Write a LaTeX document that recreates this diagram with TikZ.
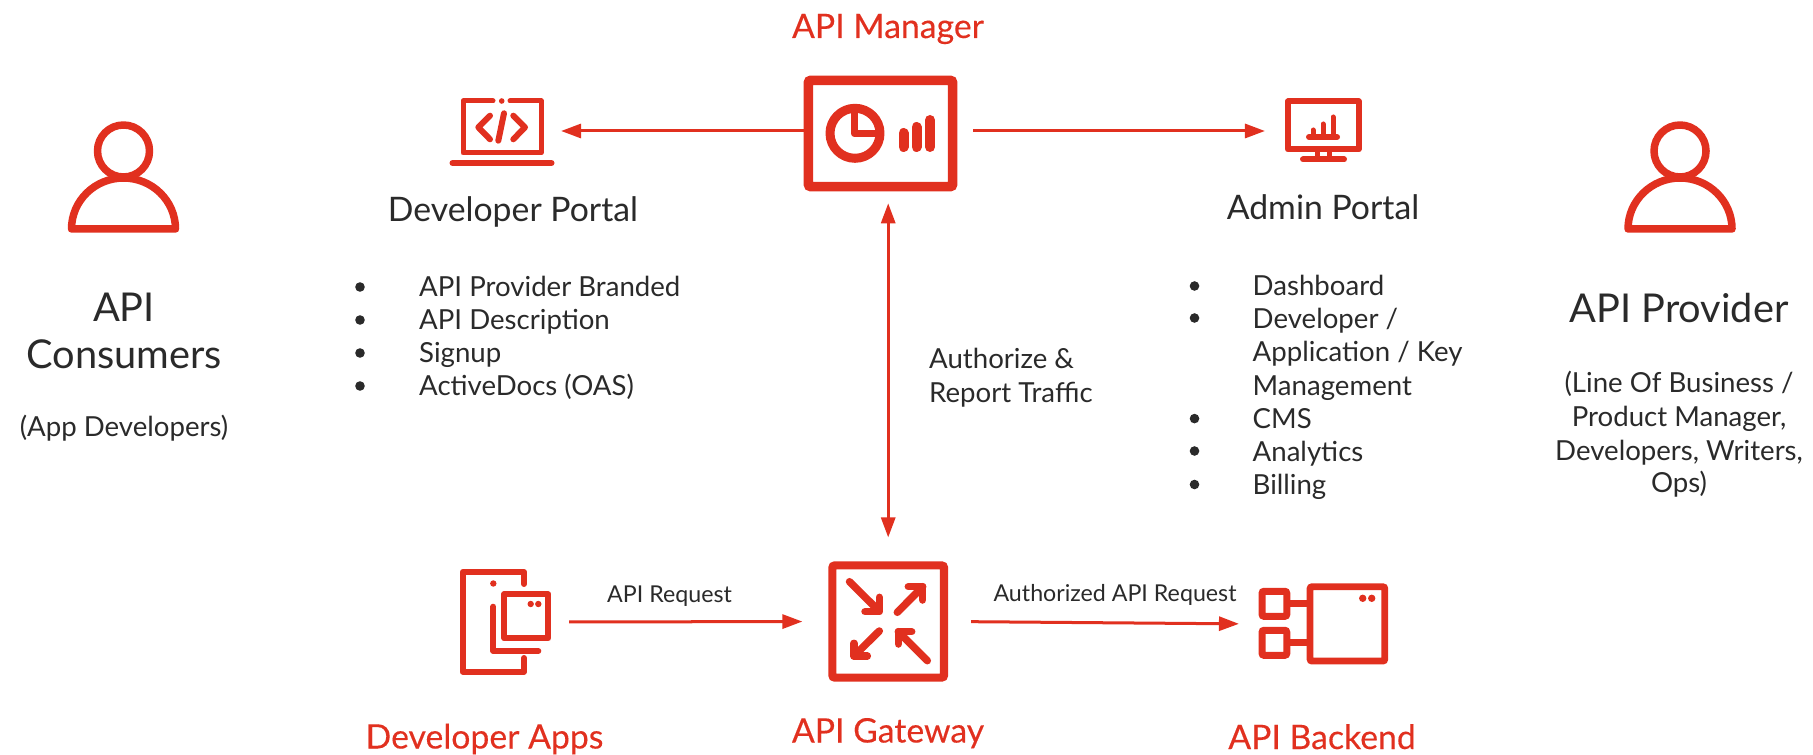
\documentclass[tikz,border=0pt]{standalone}
\usepackage{fontspec}
\setmainfont{Lato}
\usetikzlibrary{arrows.meta}
\definecolor{rhred}{HTML}{E1301F}
\definecolor{rhtext}{HTML}{2A2A2A}
\newfontfamily\titlefamily[FakeBold=0.25]{Lato}
\newcommand{\bigfont}{\fontsize{11.3}{13.6}\selectfont}
\newcommand{\midfont}{\fontsize{9.6}{12}\selectfont}
\newcommand{\smallfont}{\fontsize{7.85}{9.4}\selectfont}
\newcommand{\tinyfont}{\fontsize{6.6}{8}\selectfont}
\begin{document}
\begin{tikzpicture}[x=0.01cm,y=-0.01cm]
    \tikzstyle{icon} = [draw=rhred, line width=0.06cm, line join=round, line cap=round]
    \tikzstyle{dot} = [fill=rhred, draw=none]
    \tikzstyle{hold} = [inner sep=0pt, outer sep=0pt]
    \tikzstyle{frame} = [draw=rhred, rectangle, rounded corners=0.02cm, inner sep=0pt]
    \tikzstyle{flow} = [draw=rhred, line width=0.03cm, -{Triangle[length=0.2cm,width=0.14cm]}]
    \tikzstyle{title} = [text=rhred, anchor=base, inner sep=0pt, font=\titlefamily\midfont]
    \tikzstyle{label} = [text=rhtext, anchor=base, inner sep=0pt]
    \tikzstyle{item} = [text=rhtext, anchor=base west, inner sep=0pt, font=\smallfont]

    \useasboundingbox (0,0) rectangle (1813,755);

    % boxes that carry the arrows
    \node[frame, line width=0.095cm, minimum width=1.44cm, minimum height=1.06cm] (mgr) at (880.5,133.5) {};
    \node[frame, line width=0.08cm, minimum width=1.115cm, minimum height=1.12cm] (gw) at (888.2,621.5) {};
    \node[hold, minimum width=1cm, minimum height=0.66cm] (laptop) at (502,131) {};
    \node[hold, minimum width=0.75cm, minimum height=0.66cm] (monitor) at (1323.5,131) {};
    \node[hold, minimum width=0.88cm, minimum height=1.05cm] (apps) at (505,622) {};
    \node[hold, minimum width=1.3cm, minimum height=0.8cm] (backend) at (1324,624) {};

    \draw[flow, shorten >=0.09cm] (laptop.east -| mgr.west) -- (laptop.east);
    \draw[flow, shorten <=0.16cm, shorten >=0.21cm] (monitor.west -| mgr.east) -- (monitor.west);
    \draw[flow, {Triangle[length=0.2cm,width=0.14cm]}-{Triangle[length=0.2cm,width=0.14cm]}, shorten <=0.24cm, shorten >=0.12cm] (gw.north) -- (gw.north |- mgr.south);
    \draw[flow, shorten <=0.2cm, shorten >=0.26cm] (apps.east) -- (gw.west);
    \draw[flow, shorten <=0.23cm, shorten >=0.2cm] (gw.east) -- (backend.west);

    % people
    \foreach \cx in {123.5,1680} {
        \draw[icon, line width=0.075cm] (\cx,151) circle (26);
        \draw[icon, line width=0.075cm] (\cx-52,229) arc[start angle=180, end angle=360, x radius=52, y radius=51] -- cycle;
    }

    % laptop
    \draw[icon, line width=0.05cm] (493,101) -- (463,101) -- (463,153) -- (541,153) -- (541,101) -- (510,101);
    \fill[dot] (501.7,101) circle (2.8);
    \draw[icon] (452.5,163) -- (551.5,163);
    \draw[icon] (490,115.7) -- (478.3,127.3) -- (490,139.3);
    \draw[icon] (504,113.3) -- (498.3,140.7);
    \draw[icon] (513.3,115.7) -- (525,127.3) -- (513.3,139.3);

    % pie and bars
    \draw[icon, line width=0.09cm] (855,133.3) circle (25);
    \draw[icon, line width=0.075cm, line cap=butt] (854.5,108) -- (854.5,133.5) -- (877,133.5);
    \draw[icon, line width=0.1cm] (903.5,133) -- (903.5,147);
    \draw[icon, line width=0.1cm] (916.5,127) -- (916.5,147);
    \draw[icon, line width=0.1cm] (930,120) -- (930,147);

    % monitor
    \draw[icon] (1288,101.5) rectangle (1358.5,149.5);
    \draw[icon, line width=0.05cm] (1317,150) -- (1317,159);
    \draw[icon, line width=0.05cm] (1329,150) -- (1329,159);
    \draw[icon] (1303,159.5) -- (1344,159.5);
    \draw[icon] (1309,137) -- (1337,137);
    \draw[icon, line width=0.05cm] (1313,130) -- (1313,137);
    \draw[icon, line width=0.05cm] (1323,124) -- (1323,137);
    \draw[icon, line width=0.05cm] (1333,117) -- (1333,137);

    % apps
    \draw[icon] (524,584) -- (524,572) -- (462.7,572) -- (462.7,671.7) -- (524,671.7) -- (524,658);
    \fill[dot] (493.3,583.5) circle (3.2);
    \draw[icon] (493.3,606.7) -- (493.3,651) -- (538.3,651);
    \draw[icon] (504.3,594.3) rectangle (548.3,638.3);
    \fill[dot] (530.7,604) circle (3.2);
    \fill[dot] (538.3,604) circle (3.2);

    % gateway arrows
    \draw[icon, line width=0.075cm] (849.5,581.7) -- (879,611);
    \draw[icon, line width=0.075cm] (865,611.7) -- (879.3,611.7) -- (879.3,597.3);
    \draw[icon, line width=0.075cm] (897.3,612.3) -- (922.7,586.7);
    \draw[icon, line width=0.075cm] (908.3,586.7) -- (922.7,586.7) -- (922.7,600);
    \draw[icon, line width=0.075cm] (879.3,631) -- (854,656);
    \draw[icon, line width=0.075cm] (854,643.3) -- (854,656) -- (867.3,656);
    \draw[icon, line width=0.075cm] (927.3,660.7) -- (898.3,631.7);
    \draw[icon, line width=0.075cm] (898.3,644) -- (898.3,631.7) -- (911.7,631.7);

    % backend
    \node[frame, line width=0.068cm, minimum width=0.747cm, minimum height=0.743cm] (backbox) at (1347.4,623.9) {};
    \node[frame, line width=0.07cm, minimum width=0.247cm, minimum height=0.25cm] (portA) at (1274.4,603.8) {};
    \node[frame, line width=0.07cm, minimum width=0.247cm, minimum height=0.25cm] (portB) at (1274.4,642.8) {};
    \draw[draw=rhred, line width=0.07cm] (portA.east) -- (portA.east -| backbox.west);
    \draw[draw=rhred, line width=0.07cm] (portB.east) -- (portB.east -| backbox.west);
    \fill[dot] (1362.7,598.3) circle (3.7);
    \fill[dot] (1371.7,598.3) circle (3.7);

    % titles
    \node[title] (tmgr) at (888,38) {API Manager};
    \node[title] (tapps) at (484.5,748.5) {Developer Apps};
    \node[title] (tgw) at (888,742.5) {API Gateway};
    \node[title] (tback) at (1322,749) {API Backend};

    % left column
    \node[label, font=\bigfont] (api) at (124,321) {API};
    \node[label, font=\bigfont] (cons) at (124,368) {Consumers};
    \node[label, font=\smallfont] (appdev) at (124,436) {(App Developers)};
    \node[label, font=\midfont] (tdev) at (513,222) {Developer Portal};
    \node[label, font=\midfont] (tadmin) at (1323,220) {Admin Portal};

    % right column
    \node[label, font=\bigfont] (prov) at (1679,323) {API Provider};
    \node[label, font=\smallfont] (provA) at (1679,393) {(Line Of Business /};
    \node[label, font=\smallfont] (provB) at (1679,426) {Product Manager,};
    \node[label, font=\smallfont] (provC) at (1679,460) {Developers, Writers,};
    \node[label, font=\smallfont] (provD) at (1679,492) {Ops)};

    % lists
    \foreach \n/\y/\t in {a/297/API Provider Branded, b/330/API Description, c/363/Signup, d/396/ActiveDocs (OAS)} {
        \node[item] (dev\n) at (418.5,\y) {\t};
    }
    \foreach \y in {287,320,353,386} \fill[rhtext] (360,\y) circle (4.8);
    \foreach \n/\y/\t in {a/296/Dashboard, b/328/{Developer /}, c/361.5/{Application / Key}, d/395/Management, e/428.5/CMS, f/461/Analytics, g/494.5/Billing} {
        \node[item] (adm\n) at (1252,\y) {\t};
    }
    \foreach \y in {286,318,418.6,451,484.5} \fill[rhtext] (1194.5,\y) circle (4.8);

    % connector labels
    \node[item] (auth) at (928.5,368) {Authorize \&};
    \node[item] (traf) at (928.5,402) {Report Traffic};
    \node[label, font=\tinyfont] (req) at (669.5,602) {API Request};
    \node[label, font=\tinyfont] (areq) at (1115,601) {Authorized API Request};
\end{tikzpicture}
\end{document}
